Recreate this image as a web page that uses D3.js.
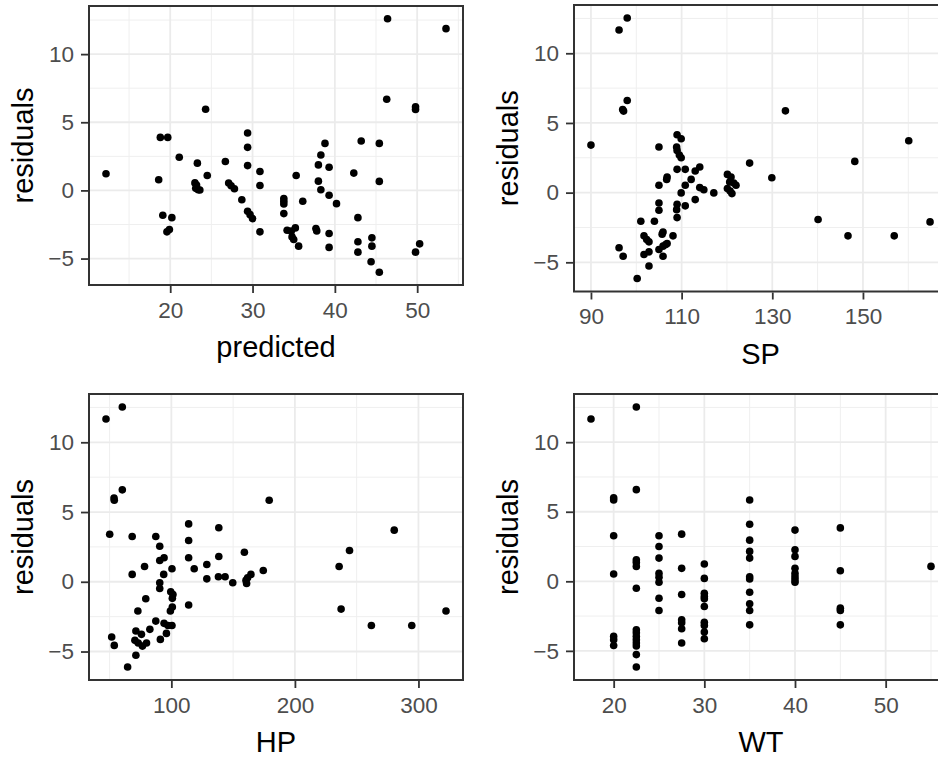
<!DOCTYPE html>
<html>
<head>
<meta charset="utf-8">
<script src="https://cdn.jsdelivr.net/npm/d3@7"></script>
<style>
body { margin: 0; background: #fff; }
text { font-family: "Liberation Sans", Arial, sans-serif; }
</style>
</head>
<body>
<div id="chart"></div>
<script>
const width = 938;
const height = 759;

// tick labels
const resTicks = [-5, 0, 5, 10];
const predictedTicks = [20, 30, 40, 50];
const spTicks = [90, 110, 130, 150];
const hpTicks = [100, 200, 300];
const wtTicks = [20, 30, 40, 50];

// [x, residual]
const predictedPts = [[12.2,1.22],[46.4,12.6],[53.5,11.87],[46.3,6.69],[49.8,6.13],[49.8,5.94],[24.3,5.96],[18.8,3.89],[19.7,3.89],[29.4,4.21],[29.4,3.16],[29.4,1.82],[21.1,2.43],[23.3,2.0],[26.7,2.12],[18.6,0.78],[24.5,1.09],[23.0,0.55],[23.2,0.4],[23.1,0.15],[23.4,0.05],[23.6,0.03],[27.1,0.54],[27.4,0.34],[27.8,0.12],[28.7,-0.68],[29.4,-1.53],[29.7,-1.78],[30.0,-2.07],[30.9,1.39],[30.9,0.36],[30.9,-3.04],[19.1,-1.82],[20.2,-2.0],[19.6,-3.04],[19.9,-2.87],[33.8,-0.6],[33.8,-0.8],[33.8,-1.0],[33.8,-1.70],[35.3,1.09],[36.1,-0.80],[34.2,-2.92],[34.7,-2.99],[35.2,-2.75],[34.8,-3.41],[35.0,-3.6],[35.6,-4.09],[37.7,-2.80],[37.8,-2.97],[38.0,1.87],[38.3,2.60],[38.8,3.45],[39.3,1.70],[38.0,0.68],[38.3,0.05],[39.3,-0.36],[40.2,-0.97],[39.3,-3.16],[39.3,-4.18],[42.3,1.27],[43.2,3.63],[42.8,-2.0],[42.8,-3.77],[42.8,-4.53],[45.4,3.45],[45.4,0.66],[44.5,-3.48],[44.5,-4.09],[44.4,-5.23],[45.4,-6.01],[49.8,-4.53],[50.3,-3.92]];

const spPts = [[98.0,12.53],[96.2,11.67],[98.0,6.61],[97.0,5.97],[97.2,5.85],[132.9,5.87],[90.0,3.41],[105.0,3.27],[109.0,4.15],[109.9,3.87],[108.9,3.27],[109.0,3.03],[109.5,2.7],[109.9,2.5],[125.0,2.12],[129.9,1.07],[148.2,2.24],[160.1,3.72],[109.0,1.67],[110.8,1.67],[114.0,1.84],[113.0,1.55],[112.1,0.95],[106.8,1.12],[106.7,0.95],[105.0,0.53],[110.8,0.53],[109.9,-0.02],[114.0,0.36],[114.9,0.21],[117.1,-0.02],[120.1,1.31],[120.9,1.12],[120.6,0.76],[121.5,0.69],[122.0,0.53],[120.1,0.29],[120.7,0.12],[121.1,-0.07],[105.0,-0.74],[105.0,-1.26],[109.0,-0.84],[108.9,-1.22],[110.8,-0.95],[113.0,-0.50],[109.0,-1.79],[101.0,-2.05],[104.0,-2.05],[140.1,-1.93],[164.8,-2.10],[146.7,-3.10],[156.9,-3.10],[101.7,-3.10],[102.3,-3.37],[102.8,-3.53],[105.9,-2.82],[105.7,-2.98],[108.1,-3.10],[106.8,-3.65],[105.9,-3.84],[105.0,-4.08],[105.9,-4.56],[101.7,-4.44],[102.8,-4.25],[96.2,-3.96],[97.1,-4.56],[102.8,-5.27],[100.2,-6.16],[106.5,-3.72]];

const hpPts = [[47.1,11.67],[60.3,12.53],[60.3,6.59],[53.6,6.01],[53.8,5.85],[179.2,5.85],[50.1,3.41],[68.3,3.25],[87.4,3.25],[90.6,2.55],[114.0,4.15],[114.0,2.96],[138.4,3.87],[280.4,3.70],[244.2,2.24],[235.8,1.10],[159.1,2.12],[138.4,1.81],[114.0,1.72],[94.1,1.72],[90.6,1.53],[78.3,1.10],[100.5,0.93],[118.5,0.93],[128.7,1.24],[68.3,0.53],[93.8,0.53],[128.7,0.21],[138.1,0.36],[143.5,0.36],[149.7,-0.07],[174.4,0.81],[164.4,0.53],[161.7,0.29],[160.4,0.10],[160.9,-0.12],[90.6,-0.07],[90.6,-0.48],[99.5,-0.72],[101.3,-0.91],[100.8,-1.19],[79.3,-1.22],[114.0,-1.67],[100.8,-1.81],[99.2,-2.10],[72.9,-2.10],[237.4,-1.96],[322.3,-2.10],[261.9,-3.13],[294.6,-3.13],[87.4,-2.82],[94.1,-2.98],[97.3,-3.13],[100.5,-3.13],[82.6,-3.41],[71.3,-3.53],[75.8,-3.77],[70.5,-4.20],[73.2,-4.39],[76.6,-4.61],[79.9,-4.39],[91.1,-4.13],[96.0,-3.70],[51.7,-3.96],[53.8,-4.56],[71.3,-5.27],[64.6,-6.11]];

const wtPts = [[17.5,11.67],
  [20,6.01],[20,5.85],[20,3.27],[20,0.53],[20,-3.96],[20,-4.20],[20,-4.61],
  [22.5,12.53],[22.5,6.59],[22.5,1.55],[22.5,1.36],[22.5,1.07],[22.5,-0.50],[22.5,-3.48],[22.5,-3.70],[22.5,-3.96],[22.5,-4.20],[22.5,-4.44],[22.5,-4.65],[22.5,-5.27],[22.5,-6.16],
  [25,3.27],[25,2.50],[25,1.67],[25,0.57],[25,0.29],[25,-0.07],[25,-1.22],[25,-2.10],
  [27.5,3.39],[27.5,0.93],[27.5,-0.95],[27.5,-2.77],[27.5,-2.98],[27.5,-3.41],[27.5,-4.44],
  [30,1.24],[30,0.21],[30,-0.86],[30,-1.10],[30,-1.26],[30,-1.81],[30,-2.94],[30,-3.17],[30,-3.65],[30,-4.13],
  [35,5.85],[35,4.10],[35,2.96],[35,2.15],[35,1.67],[35,0.33],[35,0.17],[35,-0.79],[35,-1.62],[35,-2.10],[35,-3.13],
  [40,3.68],[40,2.27],[40,1.79],[40,0.93],[40,0.57],[40,0.33],[40,0.12],[40,-0.07],
  [45,3.84],[45,0.76],[45,-1.93],[45,-2.10],[45,-3.13],
  [55,1.07]];

const panels = [
  {pts: predictedPts, ticks: predictedTicks, title: "predicted", left: 89, right: 463, top: 6, bottom: 285},
  {pts: spPts, ticks: spTicks, title: "SP", left: 574, right: 947, top: 5, bottom: 291.5},
  {pts: hpPts, ticks: hpTicks, title: "HP", left: 89, right: 463, top: 394, bottom: 680},
  {pts: wtPts, ticks: wtTicks, title: "WT", left: 574, right: 948, top: 394, bottom: 680}
];

const svg = d3.select("#chart")
  .append("svg")
  .attr("width", width)
  .attr("height", height)
  .style("display", "block");

// ggplot-style 5% padding
function expand(ext) {
  const pad = (ext[1] - ext[0]) * 0.05;
  return [ext[0] - pad, ext[1] + pad];
}

// midpoints between majors, plus one step past each end
function minors(ticks, domain) {
  const step = ticks[1] - ticks[0];
  const out = [ticks[0] - step / 2];
  ticks.forEach(t => out.push(t + step / 2));
  return out.filter(v => v >= domain[0] && v <= domain[1]);
}

function drawPanel(p) {
  const x = d3.scaleLinear()
    .domain(expand(d3.extent(p.pts, d => d[0])))
    .range([p.left, p.right]);
  const y = d3.scaleLinear()
    .domain(expand(d3.extent(p.pts, d => d[1])))
    .range([p.bottom, p.top]);

  const g = svg.append("g");

  // minor grid
  g.selectAll(".minorX")
    .data(minors(p.ticks, x.domain()))
    .join("line")
    .attr("x1", d => x(d)).attr("x2", d => x(d))
    .attr("y1", p.top).attr("y2", p.bottom)
    .attr("stroke", "#EFEFEF").attr("stroke-width", 1);
  g.selectAll(".minorY")
    .data(minors(resTicks, y.domain()))
    .join("line")
    .attr("x1", p.left).attr("x2", p.right)
    .attr("y1", d => y(d)).attr("y2", d => y(d))
    .attr("stroke", "#EFEFEF").attr("stroke-width", 1);

  // major grid
  g.selectAll(".majorX")
    .data(p.ticks)
    .join("line")
    .attr("x1", d => x(d)).attr("x2", d => x(d))
    .attr("y1", p.top).attr("y2", p.bottom)
    .attr("stroke", "#EBEBEB").attr("stroke-width", 1.8);
  g.selectAll(".majorY")
    .data(resTicks)
    .join("line")
    .attr("x1", p.left).attr("x2", p.right)
    .attr("y1", d => y(d)).attr("y2", d => y(d))
    .attr("stroke", "#EBEBEB").attr("stroke-width", 1.8);

  // points
  g.selectAll(".pt")
    .data(p.pts)
    .join("circle")
    .attr("cx", d => x(d[0]))
    .attr("cy", d => y(d[1]))
    .attr("r", 3.8)
    .attr("fill", "#000");

  // border
  g.append("rect")
    .attr("x", p.left).attr("y", p.top)
    .attr("width", p.right - p.left).attr("height", p.bottom - p.top)
    .attr("fill", "none")
    .attr("stroke", "#333333")
    .attr("stroke-width", 2);

  // axes
  const xAxis = g.append("g")
    .attr("transform", `translate(0,${p.bottom + 1})`)
    .call(d3.axisBottom(x).tickValues(p.ticks).tickSize(7).tickPadding(9));
  const yAxis = g.append("g")
    .attr("transform", `translate(${p.left - 1},0)`)
    .call(d3.axisLeft(y).tickValues(resTicks).tickSize(7).tickPadding(7));
  [xAxis, yAxis].forEach(a => {
    a.select(".domain").remove();
    a.selectAll("line").attr("stroke", "#333333").attr("stroke-width", 1.8);
    a.selectAll("text")
      .attr("fill", "#4D4D4D")
      .style("font-size", "22.5px")
      .style("font-family", "'Liberation Sans', Arial, sans-serif");
  });

  // titles
  g.append("text")
    .attr("x", (p.left + p.right) / 2)
    .attr("y", p.bottom + 72)
    .attr("text-anchor", "middle")
    .style("font-size", "29px")
    .attr("fill", "#000")
    .text(p.title);
  g.append("text")
    .attr("transform", `translate(${p.left - 56},${(p.top + p.bottom) / 2}) rotate(-90)`)
    .attr("text-anchor", "middle")
    .style("font-size", "29px")
    .attr("fill", "#000")
    .text("residuals");
}

panels.forEach(drawPanel);
</script>
</body>
</html>
